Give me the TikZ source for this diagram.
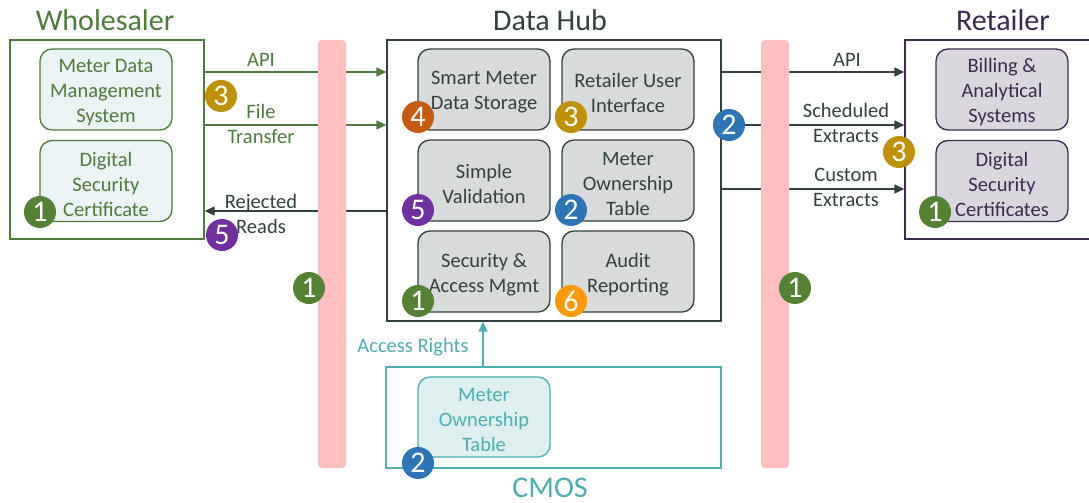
\documentclass[tikz,border=0pt]{standalone}
\usepackage{fontspec}
\setmainfont{Carlito}
\usetikzlibrary{arrows.meta}
\definecolor{wgreen}{HTML}{507A3C}
\definecolor{wfill}{HTML}{EBF4F4}
\definecolor{hdark}{HTML}{334040}
\definecolor{hfill}{HTML}{D9DBDB}
\definecolor{rdark}{HTML}{3C2A4D}
\definecolor{rfill}{HTML}{DAD6DE}
\definecolor{teal}{HTML}{4EAEB2}
\definecolor{cfill}{HTML}{DDEFEF}
\definecolor{pinkbar}{HTML}{FFBFBF}
\definecolor{bgreen}{HTML}{548235}
\definecolor{bgold}{HTML}{BF9000}
\definecolor{bred}{HTML}{C55A11}
\definecolor{bpurple}{HTML}{7030A0}
\definecolor{bblue}{HTML}{2E75B6}
\definecolor{borange}{HTML}{FF9A00}
\begin{document}
\begin{tikzpicture}[x=1pt,y=-1pt,
  txt/.style={font=\fontsize{20.5}{25}\selectfont, align=center},
  ttl/.style={font=\fontsize{30}{32}\selectfont},
  outer/.style={draw, line width=1.3pt, inner sep=0pt},
  inner/.style={draw, line width=1.3pt, rounded corners=12pt, minimum width=132pt, minimum height=81pt, inner sep=0pt},
  wbox/.style={inner, draw=wgreen, fill=wfill, label={[txt, text=wgreen, yshift=-3pt]center:{#1}}},
  hbox/.style={inner, draw=hdark, fill=hfill, label={[txt, text=hdark, yshift=-3pt]center:{#1}}},
  rbox/.style={inner, draw=rdark, fill=rfill, label={[txt, text=rdark, yshift=-3pt]center:{#1}}},
  cbox/.style={inner, draw=teal, fill=cfill, label={[txt, text=teal, yshift=-3pt]center:{#1}}},
  badge/.style={circle, fill=#1, text=white, minimum size=32pt, inner sep=0pt, font=\fontsize{30}{30}\selectfont},
  lbl/.style={txt},
  arr/.style={line width=1.3pt, -{Triangle[length=10pt,width=9pt]}},
  bar/.style={fill=pinkbar, rounded corners=4pt, draw=none, minimum width=28pt, minimum height=428pt, inner sep=0pt}
]
\useasboundingbox (0,0) rectangle (1089,503);
% titles
\node[ttl, text=wgreen] (tws) at (105,20) {Wholesaler};
\node[ttl, text=hdark] (thub) at (550,20) {Data Hub};
\node[ttl, text=rdark] (tret) at (1003,20) {Retailer};
\node[ttl, text=teal] (tcm) at (550,488) {CMOS};
% outer boxes
\node[outer, draw=wgreen, minimum width=194pt, minimum height=199pt] (ws) at (107,139.5) {};
\node[outer, draw=hdark, minimum width=334pt, minimum height=281pt] (hub) at (554,180.5) {};
\node[outer, draw=rdark, minimum width=186pt, minimum height=199pt] (ret) at (998,139.5) {};
\node[outer, draw=teal, minimum width=335pt, minimum height=101pt] (cmos) at (553.5,417.5) {};
% wholesaler inner
\node[wbox={Meter Data\\Management\\System}] (mdms) at (106,89.5) {};
\node[wbox={Digital\\Security\\Certificate}] (wdsc) at (106,181) {};
% hub inner
\node[hbox={Smart Meter\\Data Storage}] (smds) at (484,89.5) {};
\node[hbox={Retailer User\\Interface}] (rui) at (628,89.5) {};
\node[hbox={Simple\\Validation}] (sv) at (484,180.5) {};
\node[hbox={Meter\\Ownership\\Table}] (mot) at (628,180.5) {};
\node[hbox={Security \&\\Access Mgmt}] (sam) at (484,271.5) {};
\node[hbox={Audit\\Reporting}] (ar) at (628,271.5) {};
% retailer inner
\node[rbox={Billing \&\\Analytical\\Systems}] (bas) at (1002,89.5) {};
\node[rbox={Digital\\Security\\Certificates}] (rdsc) at (1002,181) {};
% cmos inner
\node[cbox={Meter\\Ownership\\Table}, minimum height=80pt] (cmot) at (484,417) {};
% left arrows
\draw[arr, wgreen] (ws.east |- 0,72) -- (hub.west |- 0,72);
\draw[arr, wgreen] (ws.east |- 0,125) -- (hub.west |- 0,125);
\draw[arr, hdark] (hub.west |- 0,211) -- (ws.east |- 0,211);
\node[lbl, text=wgreen] (lapi) at (261,60) {API};
\node[lbl, text=wgreen] (lft) at (261,124) {File\\Transfer};
\node[lbl, text=hdark] (lrr) at (261,214) {Rejected\\Reads};
% right arrows
\draw[arr, hdark] (hub.east |- 0,72) -- (ret.west |- 0,72);
\draw[arr, hdark] (hub.east |- 0,125) -- (ret.west |- 0,125);
\draw[arr, hdark] (hub.east |- 0,189) -- (ret.west |- 0,189);
\node[lbl, text=hdark] (rapi) at (847,60) {API};
\node[lbl, text=hdark] (rse) at (846,122.5) {Scheduled\\Extracts};
\node[lbl, text=hdark] (rce) at (846,187.5) {Custom\\Extracts};
% access rights
\draw[arr, teal] (cmos.north -| 483,0) -- (hub.south -| 483,0);
\node[lbl, text=teal] (lacc) at (413,347) {Access Rights};
% pink bars
\node[bar] (bar1) at (332,254) {};
\node[bar] (bar2) at (775,254) {};
% badges
\node[badge=bgreen] (b1) at (40,212) {1};
\node[badge=bgold] (b2) at (221,96) {3};
\node[badge=bpurple] (b3) at (222,235) {5};
\node[badge=bgreen] (b4) at (309,288) {1};
\node[badge=bred] (b5) at (418,117) {4};
\node[badge=bgold] (b6) at (571,117) {3};
\node[badge=bpurple] (b7) at (418,210) {5};
\node[badge=bblue] (b8) at (571,210) {2};
\node[badge=bgreen] (b9) at (418,301) {1};
\node[badge=borange] (b10) at (571,301) {6};
\node[badge=bblue] (b11) at (729,125) {2};
\node[badge=bgreen] (b12) at (795,288) {1};
\node[badge=bgold] (b13) at (899,152) {3};
\node[badge=bgreen] (b14) at (935,212) {1};
\node[badge=bblue] (b15) at (418,463) {2};
\end{tikzpicture}
\end{document}
